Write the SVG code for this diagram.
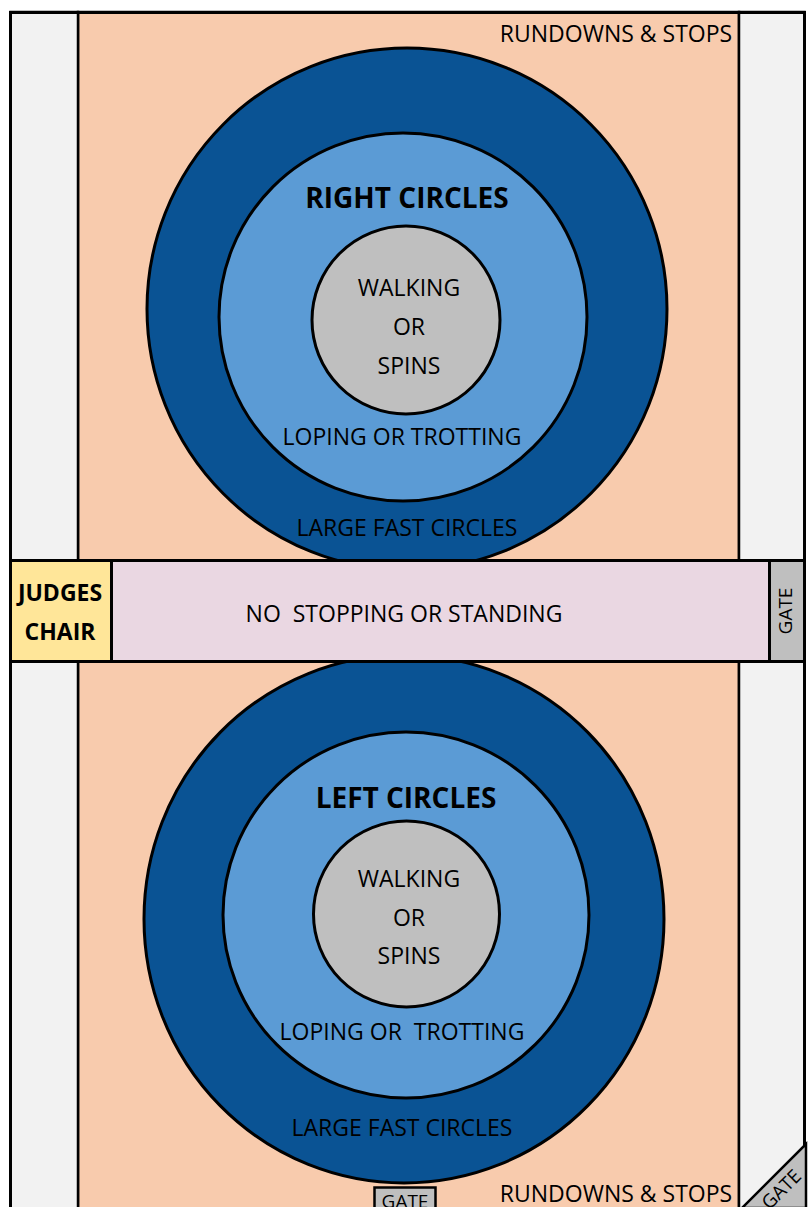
<svg xmlns="http://www.w3.org/2000/svg" width="808" height="1207" viewBox="0 0 808 1207">
<style>
text{font-family:"Open Sans","Liberation Sans",sans-serif;fill:#000;text-anchor:middle}
.t{font-size:23px}
.b{font-size:28px;font-weight:bold}
.jb{font-size:23px;font-weight:bold}
.g{font-size:19px}
.ln{stroke:#000;fill:none}
.outer{fill:#0A5394;stroke:#000;stroke-width:3}
.mid{fill:#5B9BD5;stroke:#000;stroke-width:3}
.inner{fill:#BFBFBF;stroke:#000;stroke-width:3}
.strip{fill:#F2F2F2;stroke:#000;stroke-width:2.5}
</style>
<rect x="0" y="0" width="808" height="1207" fill="#FFFFFF"/>
<g id="arena">
<rect x="78" y="12" width="661" height="1200" fill="#F8CBAD" stroke="#000" stroke-width="2.5"/>
<rect class="strip" x="10.5" y="12" width="67.5" height="1200"/>
<rect class="strip" x="739" y="12" width="65.5" height="1200"/>
<line class="ln" x1="9" y1="12.5" x2="806" y2="12.5" stroke-width="3"/>
<line class="ln" x1="10.5" y1="12" x2="10.5" y2="1207" stroke-width="3"/>
<line class="ln" x1="804.5" y1="12" x2="804.5" y2="1207" stroke-width="3"/>
<text class="t" x="616" y="42">RUNDOWNS &amp; STOPS</text>
<text class="t" x="616" y="1202">RUNDOWNS &amp; STOPS</text>
</g>
<g id="right-circles">
<ellipse class="outer" cx="407" cy="309" rx="260" ry="261"/>
<circle class="mid" cx="403" cy="317" r="184"/>
<circle class="inner" cx="406" cy="320" r="94"/>
<text class="b" x="407" y="208">RIGHT CIRCLES</text>
<text class="t" x="409" y="296">WALKING</text>
<text class="t" x="409" y="335">OR</text>
<text class="t" x="409" y="374">SPINS</text>
<text class="t" x="402" y="445">LOPING OR TROTTING</text>
<text class="t" x="407" y="536">LARGE FAST CIRCLES</text>
</g>
<g id="left-circles">
<ellipse class="outer" cx="404" cy="919" rx="260" ry="264"/>
<circle class="mid" cx="406" cy="915" r="183"/>
<circle class="inner" cx="406.5" cy="914" r="93"/>
<text class="b" x="406" y="808">LEFT CIRCLES</text>
<text class="t" x="409" y="887">WALKING</text>
<text class="t" x="409" y="926">OR</text>
<text class="t" x="409" y="964">SPINS</text>
<text class="t" x="402" y="1040" xml:space="preserve">LOPING OR  TROTTING</text>
<text class="t" x="402" y="1136">LARGE FAST CIRCLES</text>
</g>
<g id="no-stopping">
<rect x="10.5" y="560.5" width="794" height="101" fill="#EAD7E2" stroke="#000" stroke-width="3"/>
<text class="t" x="404" y="622" xml:space="preserve">NO  STOPPING OR STANDING</text>
</g>
<g id="judges-chair">
<rect x="10.5" y="560.5" width="101" height="101" fill="#FFE699" stroke="#000" stroke-width="3"/>
<text class="jb" x="60" y="601">JUDGES</text>
<text class="jb" x="60" y="640">CHAIR</text>
</g>
<g id="side-gate">
<rect x="769.5" y="560.5" width="35" height="101" fill="#BFBFBF" stroke="#000" stroke-width="3"/>
<text class="g" transform="translate(792,611) rotate(-90)" x="0" y="0">GATE</text>
</g>
<g id="bottom-gate">
<rect x="374.5" y="1187.5" width="61" height="30" fill="#BFBFBF" stroke="#000" stroke-width="2.5"/>
<text class="g" x="405" y="1208">GATE</text>
</g>
<g id="corner-gate">
<polygon points="742,1208 806,1144 806,1208" fill="#BFBFBF" stroke="#000" stroke-width="2.5"/>
<text class="g" transform="translate(786,1194) rotate(-45)" x="0" y="0">GATE</text>
</g>
</svg>
